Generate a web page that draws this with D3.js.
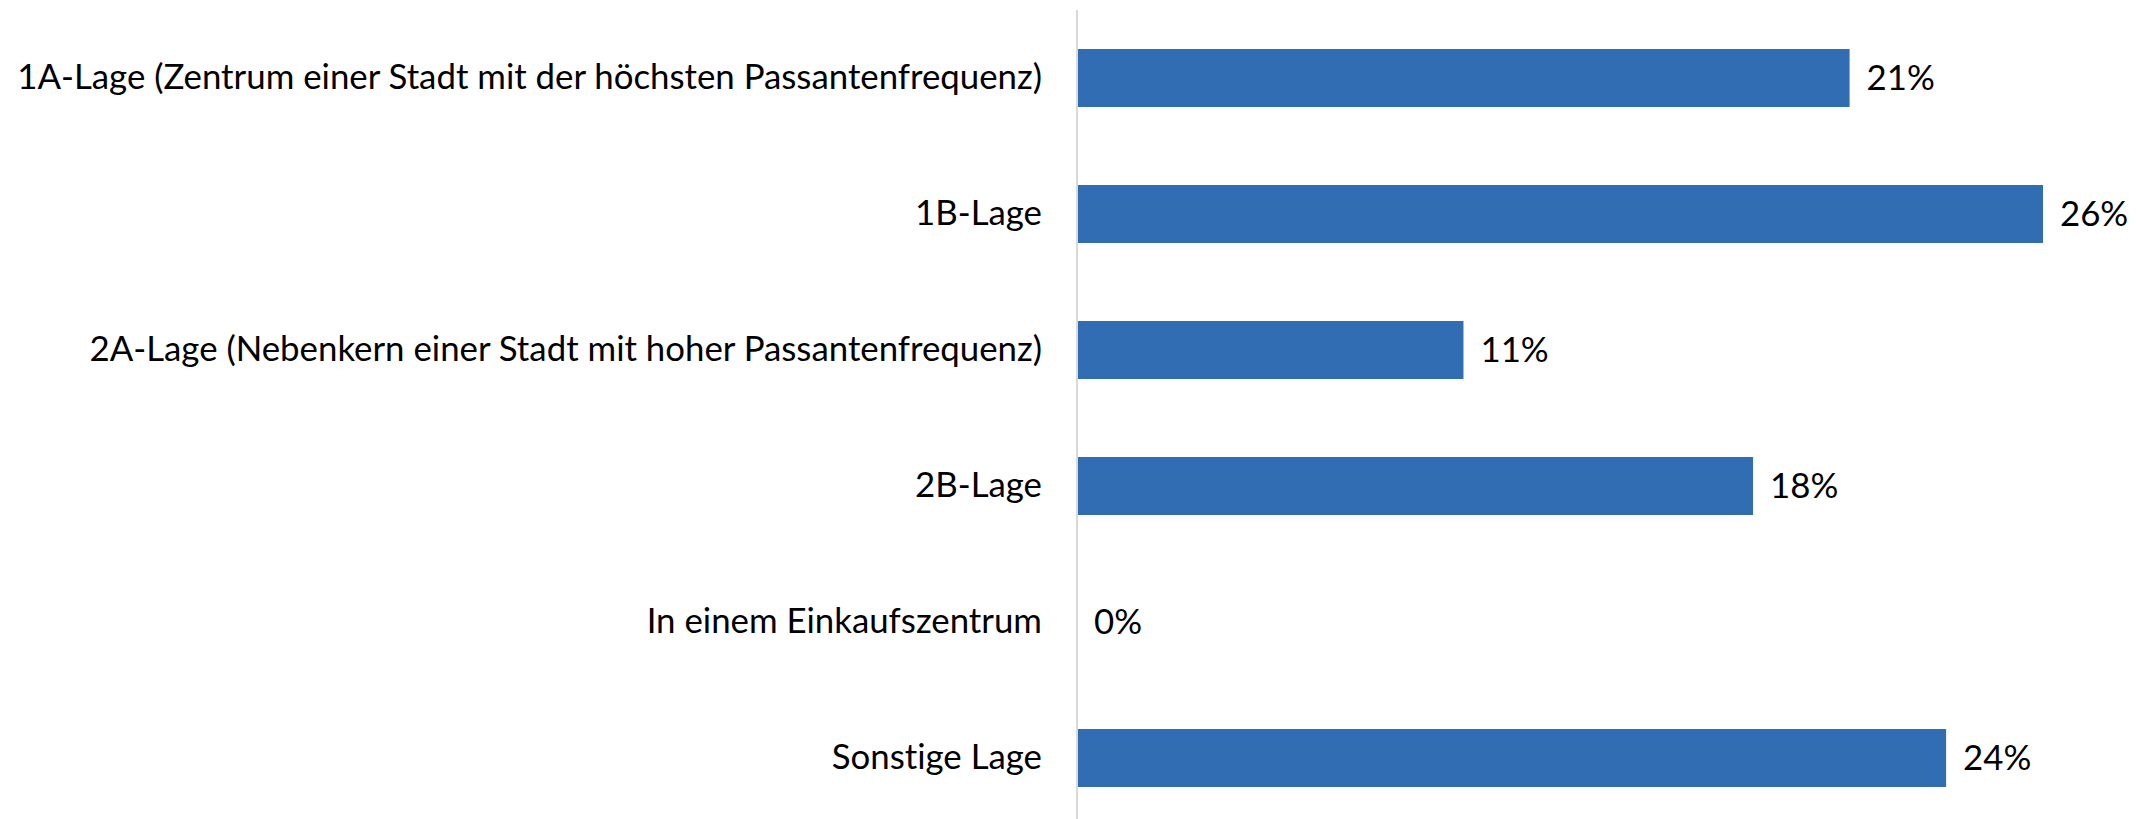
<!DOCTYPE html>
<html>
<head>
<meta charset="utf-8">
<script src="https://cdn.jsdelivr.net/npm/d3@7"></script>
<style>
  html, body { margin: 0; padding: 0; background: #fff; }
  svg text { font-family: Lato, "Open Sans", sans-serif; fill: #000; font-variant-ligatures: none; }
</style>
</head>
<body>
<div class="container"></div>
<script>
// categories, top to bottom
var categories = [
  '1A-Lage (Zentrum einer Stadt mit der höchsten Passantenfrequenz)',
  '1B-Lage',
  '2A-Lage (Nebenkern einer Stadt mit hoher Passantenfrequenz)',
  '2B-Lage',
  'In einem Einkaufszentrum',
  'Sonstige Lage'
];

// shares in percent (8, 10, 4, 7, 0, 9 of 38 answers)
var values = [21.05, 26.32, 10.53, 18.42, 0, 23.68];

// labels as printed
var valueLabels = ['21%', '26%', '11%', '18%', '0%', '24%'];

var width = 2136, height = 819;

var svg = d3.select('.container').append('svg')
  .attr('width', width)
  .attr('height', height);

var x = d3.scaleLinear()
  .domain([0, 26.32])
  .range([1077, 2043]);

var y = d3.scaleBand()
  .domain(categories)
  .range([10, 826])
  .paddingInner(0.5735)
  .paddingOuter(0.5735 / 2);

var rows = categories.map(function (c, i) {
  return { name: c, value: values[i], label: valueLabels[i] };
});

// bars
svg.append('g').selectAll('rect')
  .data(rows)
  .enter()
  .append('rect')
  .attr('x', x(0))
  .attr('y', function (d) { return y(d.name); })
  .attr('width', function (d) { return x(d.value) - x(0); })
  .attr('height', y.bandwidth())
  .attr('fill', '#316db3');

// category axis on the left, no ticks, just the vertical rule
var yAxis = svg.append('g')
  .attr('transform', 'translate(' + x(0) + ',0)')
  .call(d3.axisLeft(y).tickSize(0).tickPadding(35));

yAxis.select('.domain').remove();
yAxis.selectAll('text')
  .style('font-size', '34.8px')
  .style('font-family', 'Lato, "Open Sans", sans-serif')
  .attr('fill', '#000');

svg.append('line')
  .attr('x1', x(0)).attr('x2', x(0))
  .attr('y1', 10).attr('y2', height)
  .attr('stroke', '#d9d9d9')
  .attr('stroke-width', 2);

// value labels
svg.append('g').selectAll('text')
  .data(rows)
  .enter()
  .append('text')
  .attr('x', function (d) { return x(d.value) + 17; })
  .attr('y', function (d) { return y(d.name) + y.bandwidth() / 2; })
  .attr('dy', '0.35em')
  .style('font-size', '34.8px')
  .text(function (d) { return d.label; });
</script>
</body>
</html>
